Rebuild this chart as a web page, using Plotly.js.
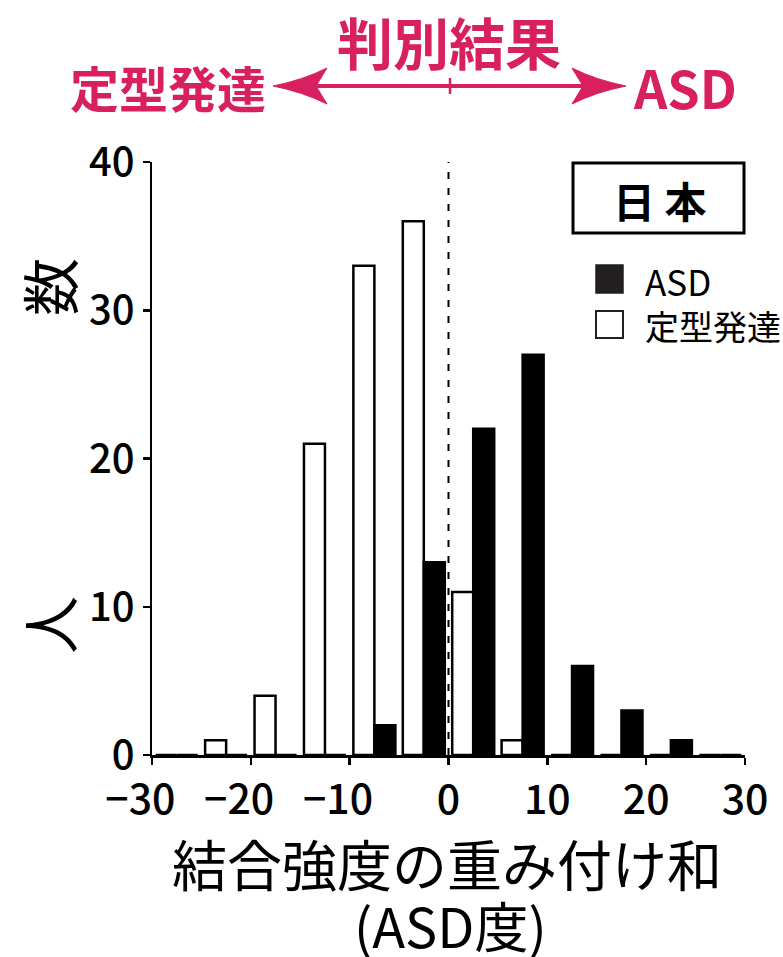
<!DOCTYPE html>
<html>
<head>
<meta charset="utf-8">
<script src="https://cdn.plot.ly/plotly-3.0.1.min.js"></script>
<style>html,body{margin:0;padding:0;background:#fff;}#chart{width:783px;height:957px;}</style>
</head>
<body>
<div id="chart"></div>
<script>
// ---- data ----
const binCenters = [-27.5, -22.5, -17.5, -12.5, -7.5, -2.5, 2.5, 7.5, 12.5, 17.5, 22.5, 27.5];
const tdCounts  = [0, 1, 4, 21, 33, 36, 11, 1, 0, 0, 0, 0];   // 定型発達
const asdCounts = [0, 0, 0, 0, 2, 13, 22, 27, 6, 3, 1, 0];    // ASD
const xTickVals = [-30, -20, -10, 0, 10, 20, 30];
const xTickText = ['\u221230\u2007', '\u221220\u2007', '\u221210\u2007', '0', '10', '20', '30'];
const yTickVals = [0, 10, 20, 30, 40];
const seriesNames = ['定型発達', 'ASD'];

const FONT = 'Noto Sans CJK JP, Noto Sans, sans-serif';
const MAG = '#D81F5F';
// pixel -> paper helpers (plot area: x 152..745, y 162..755)
const L = 152, T = 162, W = 593, H = 593;
const PX = x => (x - L) / W;
const PY = y => (T + H - y) / H;

const traces = [
  {type: 'bar', x: binCenters, y: tdCounts, name: seriesNames[0],
   marker: {color: '#ffffff', line: {color: '#000000', width: 2.5}}, hoverinfo: 'x+y'},
  {type: 'bar', x: binCenters, y: asdCounts, name: seriesNames[1],
   marker: {color: '#000000', line: {color: '#000000', width: 2.5}}, hoverinfo: 'x+y'}
];

const shapes = [
  // dashed line at x=0
  {type: 'line', xref: 'x', yref: 'y', x0: 0, x1: 0, y0: 0, y1: 40,
   line: {color: '#000', width: 2, dash: '7px,9px'}},
  // header double arrow
  {type: 'line', xref: 'paper', yref: 'paper', x0: PX(314), x1: PX(585), y0: PY(86), y1: PY(86),
   line: {color: MAG, width: 4}},
  {type: 'line', xref: 'paper', yref: 'paper', x0: PX(450), x1: PX(450), y0: PY(78), y1: PY(94),
   line: {color: MAG, width: 2.5}},
  {type: 'path', xref: 'paper', yref: 'paper', fillcolor: MAG, line: {color: MAG, width: 1},
   path: `M ${PX(273)} ${PY(86)} Q ${PX(303)} ${PY(80)} ${PX(327)} ${PY(68)} L ${PX(316)} ${PY(86)} L ${PX(327)} ${PY(104)} Q ${PX(303)} ${PY(92)} ${PX(273)} ${PY(86)} Z`},
  {type: 'path', xref: 'paper', yref: 'paper', fillcolor: MAG, line: {color: MAG, width: 1},
   path: `M ${PX(626)} ${PY(86)} Q ${PX(596)} ${PY(80)} ${PX(572)} ${PY(68)} L ${PX(583)} ${PY(86)} L ${PX(572)} ${PY(104)} Q ${PX(596)} ${PY(92)} ${PX(626)} ${PY(86)} Z`},
  // 日本 box
  {type: 'rect', xref: 'paper', yref: 'paper', x0: PX(573), x1: PX(744), y0: PY(163), y1: PY(233),
   line: {color: '#000', width: 3}, fillcolor: '#fff'},
  // legend squares
  {type: 'rect', xref: 'paper', yref: 'paper', x0: PX(596), x1: PX(623), y0: PY(265), y1: PY(293),
   line: {color: '#231F20', width: 1.5}, fillcolor: '#231F20'},
  {type: 'rect', xref: 'paper', yref: 'paper', x0: PX(596), x1: PX(623), y0: PY(311), y1: PY(338),
   line: {color: '#231F20', width: 2}, fillcolor: '#fff'}
];

const annotations = [
  {text: '<b>判別結果</b>', xref: 'paper', yref: 'paper', x: PX(449), y: PY(40), showarrow: false,
   xanchor: 'center', yanchor: 'middle', font: {family: FONT, size: 56, color: MAG}},
  {text: '<b>定型発達</b>', xref: 'paper', yref: 'paper', x: PX(168), y: PY(86), showarrow: false,
   xanchor: 'center', yanchor: 'middle', font: {family: FONT, size: 49, color: MAG}},
  {text: '<b>ASD</b>', xref: 'paper', yref: 'paper', x: PX(685), y: PY(86), showarrow: false,
   xanchor: 'center', yanchor: 'middle', font: {family: FONT, size: 52, color: MAG}},
  {text: '<b>日 本</b>', xref: 'paper', yref: 'paper', x: PX(660), y: PY(199), showarrow: false,
   xanchor: 'center', yanchor: 'middle', font: {family: FONT, size: 42, color: '#000'}},
  {text: seriesNames[1], xref: 'paper', yref: 'paper', x: PX(643), y: PY(280), showarrow: false,
   xanchor: 'left', yanchor: 'middle', font: {family: FONT, size: 35, color: '#000'}},
  {text: seriesNames[0], xref: 'paper', yref: 'paper', x: PX(643), y: PY(325), showarrow: false,
   xanchor: 'left', yanchor: 'middle', font: {family: FONT, size: 34, color: '#000'}},
  // y axis title (人数), spread apart
  {text: '人', xref: 'paper', yref: 'paper', x: PX(48), y: PY(625), showarrow: false, textangle: -90,
   xanchor: 'center', yanchor: 'middle', font: {family: FONT, size: 58, color: '#000'}},
  {text: '数', xref: 'paper', yref: 'paper', x: PX(48), y: PY(287), showarrow: false, textangle: -90,
   xanchor: 'center', yanchor: 'middle', font: {family: FONT, size: 58, color: '#000'}},
  // x axis title
  {text: '結合強度の重み付け和', xref: 'paper', yref: 'paper', x: PX(447), y: PY(862), showarrow: false,
   xanchor: 'center', yanchor: 'middle', font: {family: FONT, size: 55, color: '#000'}},
  {text: '(ASD度)', xref: 'paper', yref: 'paper', x: PX(450), y: PY(924), showarrow: false,
   xanchor: 'center', yanchor: 'middle', font: {family: FONT, size: 54, color: '#000'}}
];

const layout = {
  width: 783, height: 957,
  margin: {l: L, r: 783 - L - W, t: T, b: 957 - T - H, pad: 0},
  paper_bgcolor: '#fff', plot_bgcolor: '#fff',
  showlegend: false,
  barmode: 'group', bargap: 0.15, bargroupgap: 0,
  font: {family: FONT, color: '#000'},
  xaxis: {range: [-30, 30], tickmode: 'array', tickvals: xTickVals, ticktext: xTickText,
          showgrid: false, zeroline: false, showline: true, linecolor: '#000', linewidth: 2.5,
          ticks: 'outside', ticklen: 7, tickwidth: 2.5, tickcolor: '#000',
          tickfont: {family: FONT, size: 41, color: '#000', weight: 500}, fixedrange: true},
  yaxis: {range: [0, 40], tickmode: 'array', tickvals: yTickVals,
          showgrid: false, zeroline: false, showline: true, linecolor: '#000', linewidth: 2.5,
          ticks: 'outside', ticklen: 7, tickwidth: 2.5, tickcolor: '#000',
          tickfont: {family: FONT, size: 40, color: '#000', weight: 500}, fixedrange: true},
  shapes: shapes,
  annotations: annotations
};

Plotly.newPlot('chart', traces, layout, {displayModeBar: false, staticPlot: true});
</script>
</body>
</html>
